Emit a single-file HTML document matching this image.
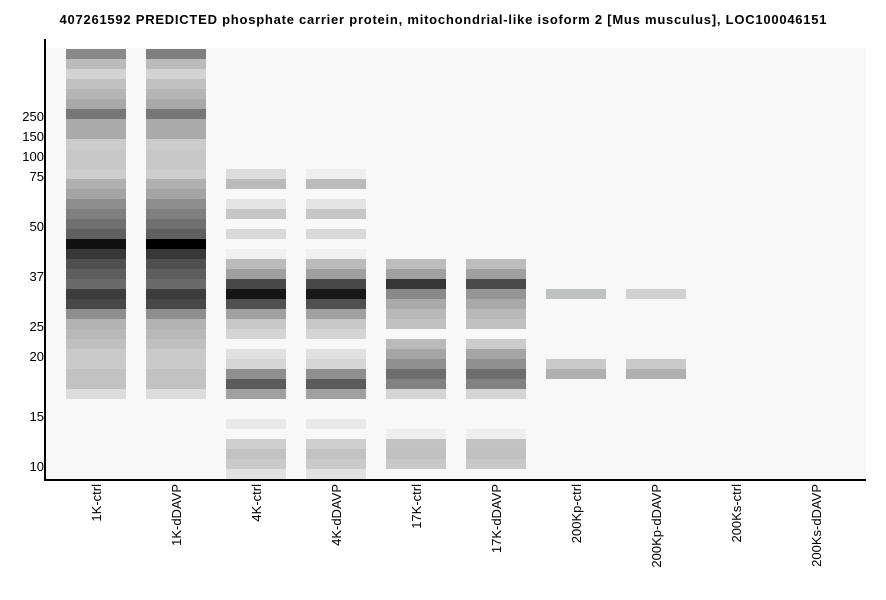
<!DOCTYPE html>
<html><head><meta charset="utf-8"><style>
body{margin:0;background:#fff;width:886px;height:595px;overflow:hidden;font-family:"Liberation Sans",sans-serif}
</style></head><body>
<svg id="s" width="886" height="595" xmlns="http://www.w3.org/2000/svg" font-family="Liberation Sans, sans-serif">
<text x="443" y="24" text-anchor="middle" font-size="13" font-weight="bold" textLength="767" lengthAdjust="spacing">407261592 PREDICTED  phosphate carrier protein, mitochondrial-like isoform 2 [Mus musculus], LOC100046151</text>
<rect x="46" y="48" width="820" height="432" fill="#f8f8f8"/>
<g id="b"></g>
<line x1="45" y1="39" x2="45" y2="481" stroke="#000" stroke-width="2"/>
<line x1="44" y1="480" x2="866" y2="480" stroke="#000" stroke-width="2"/>
<g font-size="13" text-anchor="end" fill="#000">
<text x="44" y="121">250</text><text x="44" y="141">150</text><text x="44" y="161">100</text><text x="44" y="181">75</text><text x="44" y="231">50</text><text x="44" y="281">37</text><text x="44" y="331">25</text><text x="44" y="361">20</text><text x="44" y="421">15</text><text x="44" y="471">10</text>
</g>
<g id="xl" font-size="13" text-anchor="end"></g>
</svg>
<script>
var lanes={
66:{49:'#888',59:'#bbb',69:'#d3d3d3',79:'#c0c0c0',89:'#b5b5b5',99:'#a8a8a8',109:'#777',119:'#aaa',129:'#aaa',139:'#ccc',149:'#c8c8c8',159:'#c8c8c8',169:'#ccc',179:'#b0b0b0',189:'#a5a5a5',199:'#8e8e8e',209:'#808080',219:'#707070',229:'#606060',239:'#111',249:'#383838',259:'#505050',269:'#5e5e5e',279:'#6a6a6a',289:'#3c3c3c',299:'#484848',309:'#8e8e8e',319:'#b2b2b2',329:'#b8b8b8',339:'#c0c0c0',349:'#cacaca',359:'#cacaca',369:'#c2c2c2',379:'#c2c2c2',389:'#ddd'},
226:{169:'#ddd',179:'#bbb',199:'#e4e4e4',209:'#c5c5c5',229:'#d8d8d8',249:'#f0f0f0',259:'#bbb',269:'#a0a0a0',279:'#484848',289:'#151515',299:'#505050',309:'#a0a0a0',319:'#c8c8c8',329:'#d5d5d5',349:'#e0e0e0',359:'#d5d5d5',369:'#909090',379:'#5c5c5c',389:'#a0a0a0',419:'#e8e8e8',439:'#cecece',449:'#c2c2c2',459:'#cacaca',469:'#e2e2e2'},
386:{259:'#bdbdbd',269:'#a0a0a0',279:'#363636',289:'#8a8a8a',299:'#aaa',309:'#b8b8b8',319:'#c0c0c0',339:'#bbb',349:'#a5a5a5',359:'#909090',369:'#6e6e6e',379:'#828282',389:'#d5d5d5',429:'#eee',439:'#c2c2c2',449:'#c0c0c0',459:'#c8c8c8'},
546:{289:'#c0c2c2',359:'#cacaca',369:'#b0b0b0'}
};
var copies={146:[66,{49:'#808080',239:'#000'}],306:[226,{169:'#eee',289:'#181818'}],466:[386,{279:'#4a4a4a',289:'#959595',339:'#ccc'}],626:[546,{289:'#d0d0d0'}]};
for(var k in copies){var o={};var src=lanes[copies[k][0]];for(var y in src)o[y]=src[y];var m=copies[k][1];for(var y in m)o[y]=m[y];lanes[k]=o;}
var g=document.getElementById('b'),h='';
for(var x in lanes)for(var y in lanes[x])h+='<rect x="'+x+'" y="'+y+'" width="60" height="10" fill="'+lanes[x][y]+'"/>';
g.innerHTML=h;
var names=['1K-ctrl','1K-dDAVP','4K-ctrl','4K-dDAVP','17K-ctrl','17K-dDAVP','200Kp-ctrl','200Kp-dDAVP','200Ks-ctrl','200Ks-dDAVP'],t='';
names.forEach(function(n,i){var cx=96+80*i+5;t+='<text transform="translate('+cx+',484) rotate(-90)">'+n+'</text>';});
document.getElementById('xl').innerHTML=t;
</script>
</body></html>
